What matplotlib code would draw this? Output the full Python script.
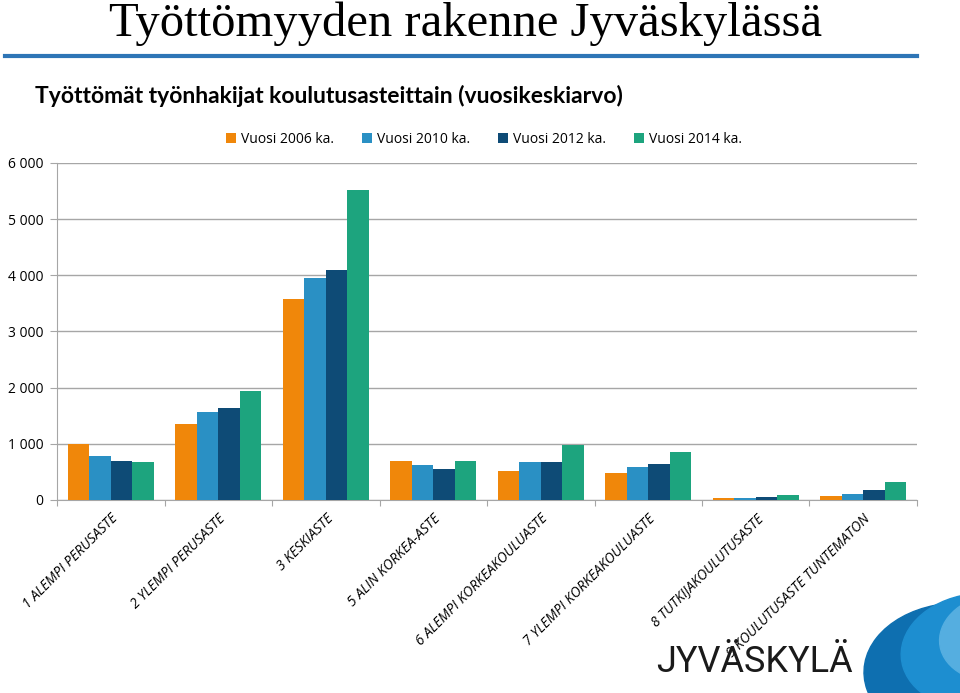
import numpy as np
import matplotlib
matplotlib.use('Agg')
import matplotlib.pyplot as plt
from matplotlib.patches import Ellipse
from matplotlib.ticker import FuncFormatter

categories = ['1 ALEMPI PERUSASTE', '2 YLEMPI PERUSASTE', '3 KESKIASTE', '5 ALIN KORKEA-ASTE',
              '6 ALEMPI KORKEAKOULUASTE', '7 YLEMPI KORKEAKOULUASTE', '8 TUTKIJAKOULUTUSASTE',
              '9 KOULUTUSASTE TUNTEMATON']
series_names = ['Vuosi 2006 ka.', 'Vuosi 2010 ka.', 'Vuosi 2012 ka.', 'Vuosi 2014 ka.']
v2006 = [1000, 1350, 3585, 686, 509, 482, 30, 77]
v2010 = [775, 1558, 3956, 621, 670, 589, 40, 101]
v2012 = [695, 1634, 4103, 557, 676, 638, 60, 184]
v2014 = [685, 1949, 5512, 686, 982, 846, 83, 319]
colors = ['#F0870A', '#2A90C4', '#0E4B76', '#1DA47E']

plt.rcParams['font.family'] = 'Open Sans'

fig = plt.figure(figsize=(9.6, 6.93), dpi=100)
ax = fig.add_axes([0.0594, 0.2785, 0.8958, 0.4863])

x = np.arange(len(categories))
w = 0.2
for i, (vals, name) in enumerate(zip([v2006, v2010, v2012, v2014], series_names)):
    ax.bar(x - 0.3 + i * w, vals, width=w, color=colors[i], label=name, zorder=3)

ax.set_xlim(-0.5, len(categories) - 0.5)
ax.set_ylim(0, 6000)
ax.set_yticks(range(0, 6001, 1000))
ax.yaxis.set_major_formatter(FuncFormatter(lambda v, p: f'{int(v):,}'.replace(',', ' ')))
ax.grid(axis='y', color='#A6A6A6', linewidth=1, zorder=0)
for s in ['top', 'right']:
    ax.spines[s].set_visible(False)
for s in ['left', 'bottom']:
    ax.spines[s].set_color('#A6A6A6')
ax.tick_params(axis='y', length=5, color='#A6A6A6', labelsize=10, pad=5)
ax.set_xticks(np.arange(-0.5, len(categories), 1))
ax.set_xticklabels([])
ax.tick_params(axis='x', length=4, color='#A6A6A6')
for i, c in enumerate(categories):
    ax.text(i + 0.0, -200, c, rotation=45, ha='right', va='top', rotation_mode='anchor',
            fontsize=10, style='italic')

ax.legend(loc='lower left', bbox_to_anchor=(0.185, 1.02), ncol=4, frameon=False, fontsize=10,
          handlelength=0.7, handleheight=0.7, handletextpad=0.4, columnspacing=2.0,
          borderaxespad=0.3)

fig.text(0.485, 0.948, 'Työttömyyden rakenne Jyväskylässä', ha='center', va='baseline',
         fontsize=35, family='Liberation Serif')
fig.add_artist(plt.Line2D([0.005, 0.955], [0.919, 0.919], color='#2E75B6', linewidth=3))
fig.text(0.036, 0.862, 'Työttömät työnhakijat koulutusasteittain (vuosikeskiarvo)', ha='left',
         va='center', fontsize=16.5, fontweight='bold', family='Lato')

# logo
fig.text(0.786, 0.045, 'JYVÄSKYLÄ', ha='center', va='center', fontsize=26, family='Roboto',
         color='#1A1A1A')
for cx, cy, ew, eh, col in [(1.0, 0.03, 0.2, 0.2, '#0E6FB0'),
                            (1.02, 0.06, 0.16, 0.17, '#1D8ED0'),
                            (1.04, 0.08, 0.12, 0.13, '#55AEE0'),
                            (1.05, 0.09, 0.07, 0.08, '#A8D4F0')]:
    fig.add_artist(Ellipse((cx, cy), ew, eh, angle=-30, color=col, transform=fig.transFigure))

fig.savefig('out.png', dpi=100)
